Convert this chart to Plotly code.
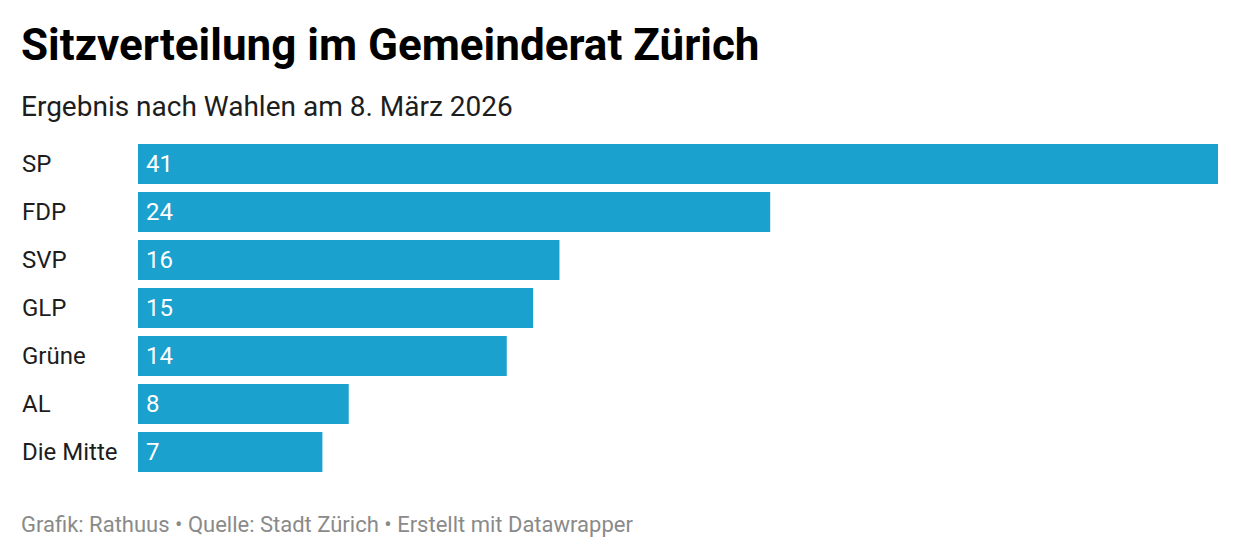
import plotly.graph_objects as go

parties = ["SP", "FDP", "SVP", "GLP", "Grüne", "AL", "Die Mitte"]
seats = [41, 24, 16, 15, 14, 8, 7]

title = "Sitzverteilung im Gemeinderat Zürich"
subtitle = "Ergebnis nach Wahlen am 8. März 2026"
footer = "Grafik: Rathuus • Quelle: Stadt Zürich • Erstellt mit Datawrapper"

W, H = 1240, 558
BAR_COLOR = "#1aa1cd"
FONT = "Roboto"

fig = go.Figure(go.Bar(
    x=seats, y=parties, orientation="h",
    marker=dict(color=BAR_COLOR, line=dict(width=0)),
    hoverinfo="skip",
))

x0, x1 = 138, 1218
y_top, y_bot = 140, 476

fig.update_layout(
    width=W, height=H,
    margin=dict(l=0, r=0, t=0, b=0),
    paper_bgcolor="white", plot_bgcolor="white",
    bargap=8 / 48,
    showlegend=False,
    font=dict(family=FONT),
    xaxis=dict(domain=[x0 / W, x1 / W], range=[0, max(seats)], visible=False, fixedrange=True),
    yaxis=dict(domain=[1 - y_bot / H, 1 - y_top / H], autorange="reversed",
               visible=False, fixedrange=True, categoryorder="array", categoryarray=parties),
)

ann = []
for p, v in zip(parties, seats):
    ann.append(dict(x=20 / W, xref="paper", y=p, yref="y", text=p, showarrow=False,
                    xanchor="left", yanchor="middle",
                    font=dict(family=FONT, size=24, color="#1d1d1d")))
    ann.append(dict(x=0, xref="x", y=p, yref="y", text=str(v), showarrow=False,
                    xanchor="left", yanchor="middle", xshift=6,
                    font=dict(family=FONT, size=24, color="white")))

ann.append(dict(x=19 / W, xref="paper", y=1 - 45 / H, yref="paper", text=f"<b>{title}</b>",
                showarrow=False, xanchor="left", yanchor="middle",
                font=dict(family=FONT, size=44, color="#000000")))
ann.append(dict(x=19 / W, xref="paper", y=1 - 106 / H, yref="paper", text=subtitle,
                showarrow=False, xanchor="left", yanchor="middle",
                font=dict(family=FONT, size=28, color="#1d1d1d")))
ann.append(dict(x=19 / W, xref="paper", y=1 - 524 / H, yref="paper", text=footer,
                showarrow=False, xanchor="left", yanchor="middle",
                font=dict(family=FONT, size=22, color="#8a8a8a")))

fig.update_layout(annotations=ann)
fig.write_html("out.html")
